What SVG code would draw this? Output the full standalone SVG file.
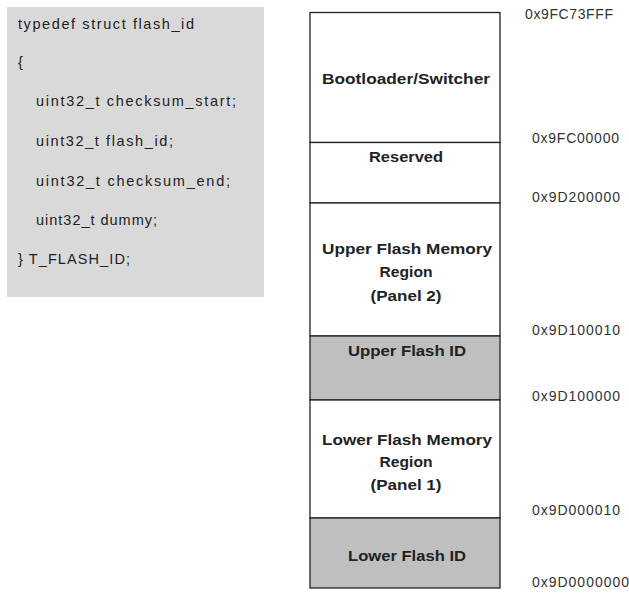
<svg xmlns="http://www.w3.org/2000/svg" width="629" height="593" viewBox="0 0 629 593">
<style>
.code{font-family:"Liberation Sans",Arial,sans-serif;font-size:14.5px;fill:#222}
.lbl{font-family:"Liberation Sans",Arial,sans-serif;font-size:15.5px;font-weight:bold;fill:#222;text-anchor:middle}
.addr{font-family:"Liberation Sans",Arial,sans-serif;font-size:14px;fill:#333}
.cell{stroke:#222;stroke-width:1.3}
.w{fill:#fff}
.g{fill:#bfbfbf}
</style>
<rect width="629" height="593" fill="#fff"/>
<g id="struct-box">
<rect x="7" y="7" width="257" height="290" fill="#d9d9d9"/>
<text class="code" x="18" y="29" textLength="176" lengthAdjust="spacing">typedef struct flash_id</text>
<text class="code" x="18" y="67">{</text>
<text class="code" x="36" y="106" textLength="200" lengthAdjust="spacing">uint32_t checksum_start;</text>
<text class="code" x="36" y="146" textLength="137" lengthAdjust="spacing">uint32_t flash_id;</text>
<text class="code" x="36" y="186" textLength="194" lengthAdjust="spacing">uint32_t checksum_end;</text>
<text class="code" x="36" y="225" textLength="121" lengthAdjust="spacing">uint32_t dummy;</text>
<text class="code" x="18" y="264" textLength="112" lengthAdjust="spacing">} T_FLASH_ID;</text>
</g>
<g id="bootloader">
<rect class="cell w" x="310" y="12.5" width="190" height="130"/>
<text class="lbl" x="406" y="84" textLength="168" lengthAdjust="spacingAndGlyphs">Bootloader/Switcher</text>
</g>
<g id="reserved">
<rect class="cell w" x="310" y="142.5" width="190" height="60.5"/>
<text class="lbl" x="406" y="162" textLength="74" lengthAdjust="spacingAndGlyphs">Reserved</text>
</g>
<g id="upper-region">
<rect class="cell w" x="310" y="203" width="190" height="133"/>
<text class="lbl" x="407" y="254" textLength="170" lengthAdjust="spacingAndGlyphs">Upper Flash Memory</text>
<text class="lbl" x="406" y="277" textLength="53" lengthAdjust="spacingAndGlyphs">Region</text>
<text class="lbl" x="406" y="301" textLength="71" lengthAdjust="spacingAndGlyphs">(Panel 2)</text>
</g>
<g id="upper-id">
<rect class="cell g" x="310" y="336" width="190" height="64"/>
<text class="lbl" x="407" y="356" textLength="118" lengthAdjust="spacingAndGlyphs">Upper Flash ID</text>
</g>
<g id="lower-region">
<rect class="cell w" x="310" y="400" width="190" height="118"/>
<text class="lbl" x="407" y="445" textLength="170" lengthAdjust="spacingAndGlyphs">Lower Flash Memory</text>
<text class="lbl" x="406" y="467" textLength="53" lengthAdjust="spacingAndGlyphs">Region</text>
<text class="lbl" x="406" y="490" textLength="71" lengthAdjust="spacingAndGlyphs">(Panel 1)</text>
</g>
<g id="lower-id">
<rect class="cell g" x="310" y="518" width="190" height="70"/>
<text class="lbl" x="407" y="561" textLength="118" lengthAdjust="spacingAndGlyphs">Lower Flash ID</text>
</g>
<g id="addresses">
<text class="addr" x="525" y="19" textLength="88" lengthAdjust="spacing">0x9FC73FFF</text>
<text class="addr" x="532" y="143" textLength="87" lengthAdjust="spacing">0x9FC00000</text>
<text class="addr" x="532" y="202" textLength="88" lengthAdjust="spacing">0x9D200000</text>
<text class="addr" x="532" y="335" textLength="88" lengthAdjust="spacing">0x9D100010</text>
<text class="addr" x="532" y="401" textLength="88" lengthAdjust="spacing">0x9D100000</text>
<text class="addr" x="532" y="515" textLength="88" lengthAdjust="spacing">0x9D000010</text>
<text class="addr" x="532" y="587" textLength="97" lengthAdjust="spacing">0x9D0000000</text>
</g>
<g id="connectors"></g>
</svg>
